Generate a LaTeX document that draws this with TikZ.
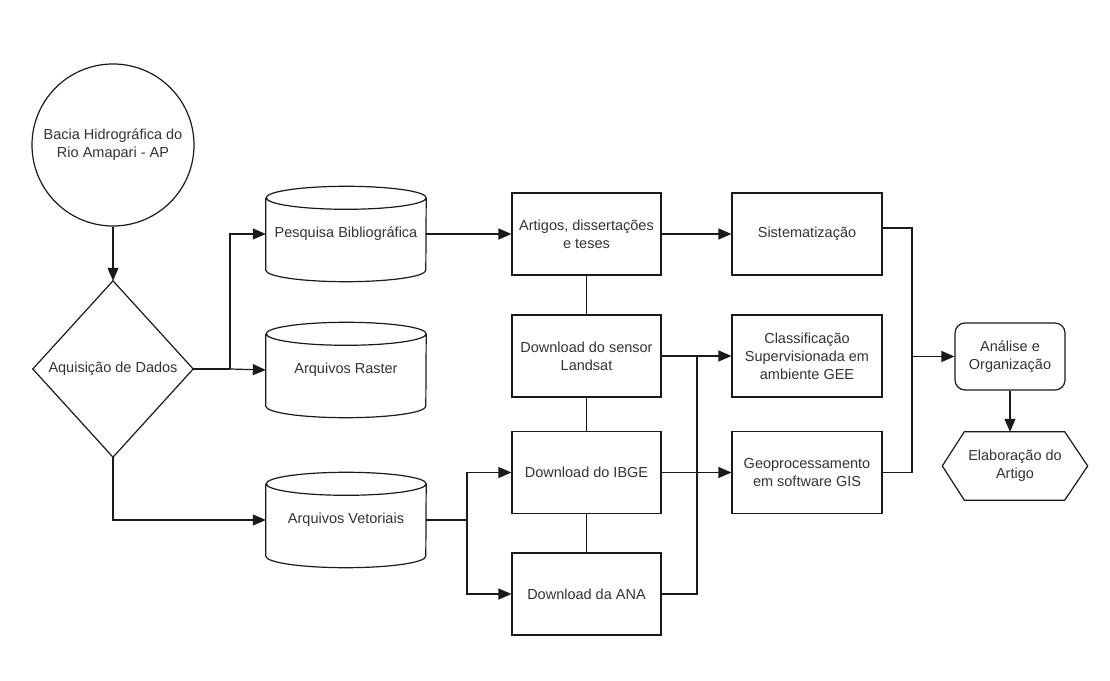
\documentclass[tikz,border=0pt]{standalone}
\usepackage{fontspec}
\setmainfont{Liberation Sans}
\usetikzlibrary{arrows.meta}
\definecolor{ink}{HTML}{1A1A1A}
\definecolor{txt}{HTML}{333333}
\begin{document}
\begin{tikzpicture}[x=1pt,y=1pt,
  font=\fontsize{14.5}{18}\selectfont,
  line/.style={draw=ink, line width=1.2pt},
  arr/.style={line, -{Triangle[length=13pt,width=11pt]}},
  lbl/.style={text=txt, align=center, inner sep=0pt},
  box/.style={lbl, line, minimum width=149, minimum height=82},
  frame/.style={lbl, minimum width=#1},
]
% canvas
\fill[white] (0,0) rectangle (1110,680);
\useasboundingbox (0,0) rectangle (1110,680);

% start and decision
\node[lbl, line, circle, minimum size=162] (bacia) at (113,535) {Bacia Hidrográfica do\\Rio Amapari - AP};
\node[frame=160, minimum height=176] (acq) at (113,311) {Aquisição de Dados};
\draw[line] (acq.north) -- (acq.east) -- (acq.south) -- (acq.west) -- cycle;

% data stores
\node[frame=160, minimum height=95] (pesq) at (346,446) {Pesquisa Bibliográfica};
\node[frame=160, minimum height=95] (rast) at (346,310) {Arquivos Raster};
\node[frame=160, minimum height=95] (veto) at (346,160) {Arquivos Vetoriais};
\foreach \n in {pesq,rast,veto}{
  \draw[line] ([yshift=-11.5]\n.north west) -- ([yshift=11.5]\n.south west)
    arc[start angle=180, end angle=360, x radius=80, y radius=11.5]
    -- ([yshift=-11.5]\n.north east)
    arc[start angle=0, end angle=360, x radius=80, y radius=11.5];
}

% sources
\node[box] (art)  at (586.5,446)   {Artigos, dissertações\\e teses};
\node[box] (land) at (586.5,324)   {Download do sensor\\Landsat};
\node[box] (ibge) at (586.5,207.5) {Download do IBGE};
\node[box] (ana)  at (586.5,86)    {Download da ANA};

% processing
\node[box, minimum width=150] (sis)  at (807,446)   {Sistematização};
\node[box, minimum width=150] (clas) at (807,324)   {Classificação\\Supervisionada em\\ambiente GEE};
\node[box, minimum width=150] (geo)  at (807,207.5) {Geoprocessamento\\em software GIS};

% outcome
\node[lbl, line, rounded corners=10pt, minimum width=110, minimum height=67] (anl) at (1010,323.5) {Análise e\\Organização};
\node[frame=145, minimum height=68] (elab) at (1015,214) {Elaboração do\\Artigo};
\draw[line] (elab.west) -- ([xshift=22]elab.north west) -- ([xshift=-23]elab.north east)
  -- (elab.east) -- ([xshift=-23]elab.south east) -- ([xshift=22]elab.south west) -- cycle;

% junction points
\coordinate (jA) at (230,311);
\coordinate (jV) at (467,160);
\coordinate (jL) at (697,324);
\coordinate (jS) at (912,323.5);

% connectors
\draw[arr] (bacia) -- (acq.north);
\draw[line] (acq.east) -- (jA);
\draw[arr] (jA) |- (pesq.west);
\draw[arr] (jA) -- (rast.west);
\draw[arr] (acq.south) |- (veto.west);

\draw[arr] (pesq) -- (art);
\draw[line] (veto.east) -- (jV);
\draw[arr] (jV) |- (ibge.west);
\draw[arr] (jV) |- (ana.west);

\draw[line] (art) -- (land);
\draw[line] (land) -- (ibge);
\draw[line] (ibge) -- (ana);

\draw[arr] (art) -- (sis);
\draw[line] (land.east) -- (jL);
\draw[line] (ana.east) -| (jL);
\draw[arr] (jL) -- (clas.west);
\draw[arr] (ibge) -- (geo);

\draw[line] ([yshift=6]sis.east) -| (jS);
\draw[line] (geo.east) -| (jS);
\draw[arr] (jS) -- (anl.west);
\draw[arr] (anl.south) -- (anl.south |- elab.north);
\end{tikzpicture}
\end{document}
